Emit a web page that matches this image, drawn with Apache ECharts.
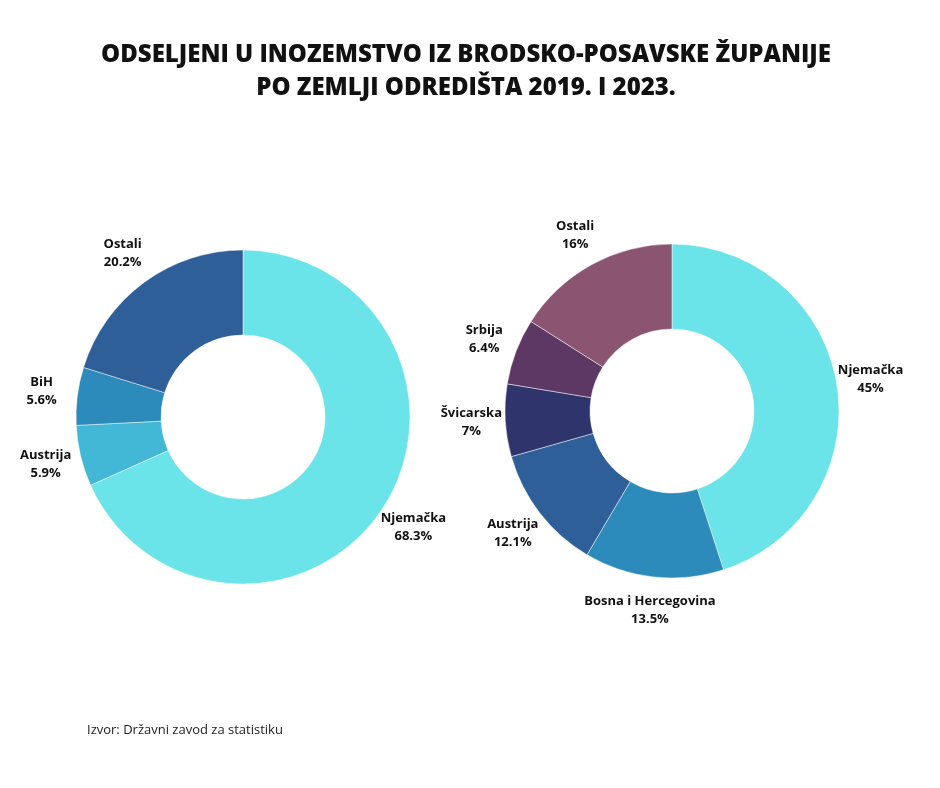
<!DOCTYPE html>
<html>
<head>
<meta charset="utf-8">
<script src="https://cdn.jsdelivr.net/npm/echarts@6/dist/echarts.min.js"></script>
<style>html,body{margin:0;padding:0;background:#fff;}#c{width:940px;height:788px;}</style>
</head>
<body>
<div id="c"></div>
<script>
const titleLines = ['ODSELJENI U INOZEMSTVO IZ BRODSKO-POSAVSKE ŽUPANIJE', 'PO ZEMLJI ODREDIŠTA 2019. I 2023.'];
const sourceText = 'Izvor: Državni zavod za statistiku';

const left2019Names = ['Njemačka', 'Austrija', 'BiH', 'Ostali'];
const left2019Values = [68.3, 5.9, 5.6, 20.2];
const left2019Colors = ['#6ae4e8', '#42b8d6', '#2c8bbb', '#2e5f98'];

const right2023Names = ['Njemačka', 'Bosna i Hercegovina', 'Austrija', 'Švicarska', 'Srbija', 'Ostali'];
const right2023Values = [45, 13.5, 12.1, 7, 6.4, 16];
const right2023Colors = ['#6ae4e8', '#2c8bbb', '#2e5f98', '#2f346c', '#5d3865', '#8b5572'];

function mk(names, values, colors) {
  return names.map((n, i) => ({ name: n, value: values[i], itemStyle: { color: colors[i] } }));
}

const labelStyle = {
  show: true,
  position: 'inside',
  formatter: '{b}\n{c}%',
  fontFamily: 'Open Sans',
  fontWeight: 'bold',
  fontSize: 13,
  lineHeight: 18,
  color: '#111',
  textBorderWidth: 0
};

function donut(center, names, values, colors) {
  return {
    type: 'pie',
    center: center,
    radius: [82, 167],
    startAngle: 90,
    clockwise: true,
    silent: true,
    label: { show: false },
    labelLine: { show: false },
    itemStyle: { borderColor: 'rgba(255,255,255,0.6)', borderWidth: 0.8 },
    emphasis: { disabled: true },
    data: mk(names, values, colors)
  };
}
function labelRing(center, names, values, r) {
  return {
    type: 'pie',
    center: center,
    radius: [r - 10, r + 10],
    startAngle: 90,
    clockwise: true,
    silent: true,
    label: labelStyle,
    labelLine: { show: false },
    itemStyle: { color: 'rgba(0,0,0,0)', borderWidth: 0 },
    emphasis: { disabled: true },
    data: names.map((n, i) => ({ name: n, value: values[i] }))
  };
}

const titleStyle = {
  fontFamily: 'Open Sans',
  fontWeight: 800,
  fontSize: 24,
  fill: '#111',
  textAlign: 'center',
  textVerticalAlign: 'middle',
  shadowColor: 'rgba(0,0,0,0.4)',
  shadowBlur: 3,
  shadowOffsetX: 1,
  shadowOffsetY: 2
};

const chart = echarts.init(document.getElementById('c'), null, { renderer: 'canvas' });
chart.setOption({
  backgroundColor: '#fff',
  animation: false,
  graphic: [
    { type: 'text', x: 466, y: 55, style: Object.assign({ text: titleLines[0] }, titleStyle) },
    { type: 'text', x: 466, y: 88, style: Object.assign({ text: titleLines[1] }, titleStyle) },
    {
      type: 'text',
      left: 87,
      top: 724,
      style: { text: sourceText, fontFamily: 'Open Sans', fontSize: 13, fill: '#222' }
    }
  ],
  series: [
    donut([243, 417], left2019Names, left2019Values, left2019Colors),
    labelRing([243, 417], left2019Names, left2019Values, 200),
    donut([672, 411], right2023Names, right2023Values, right2023Colors),
    labelRing([672, 411], right2023Names, right2023Values, 198)
  ]
});
</script>
</body>
</html>
